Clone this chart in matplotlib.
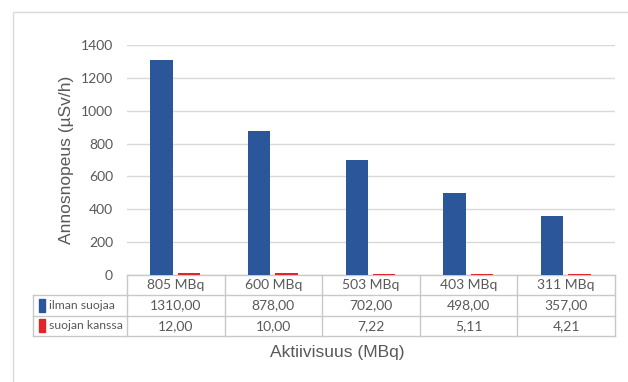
import matplotlib.pyplot as plt
from matplotlib.patches import Rectangle
from matplotlib.transforms import blended_transform_factory
import numpy as np

# dose rate at each activity, without and with shielding
categories = ['805 MBq', '600 MBq', '503 MBq', '403 MBq', '311 MBq']
ilman_suojaa = [1310.00, 878.00, 702.00, 498.00, 357.00]
suojan_kanssa = [12.00, 10.00, 7.22, 5.11, 4.21]
series_names = ['ilman suojaa', 'suojan kanssa']
yticks = [0, 200, 400, 600, 800, 1000, 1200, 1400]

BLUE = '#2B579A'
RED = '#E0262A'
GRID = '#D9D9D9'
TEXT = '#595959'
TICK_FONT = 'Lato'
TITLE_FONT = 'Liberation Sans'
FS = 10

fig = plt.figure(figsize=(6.28, 3.82), dpi=100)
ax = fig.add_axes([0.2022, 0.280, 0.7771, 0.602])

# outer chart frame
fig.patches.append(Rectangle((13 / 628, -0.1), 1.2, 1 - 12 / 382 + 0.1,
                             transform=fig.transFigure, fill=False,
                             edgecolor=GRID, linewidth=1.0))

x = np.arange(len(categories))
w = 0.23
ax.bar(x - 0.145, ilman_suojaa, w, color=BLUE, zorder=3)
ax.bar(x + 0.135, suojan_kanssa, w, color=RED, zorder=3)

ax.set_xlim(-0.5, len(categories) - 0.5)
ax.set_ylim(0, 1400)
ax.set_yticks(yticks)
ax.set_yticklabels([str(v) for v in yticks], fontsize=FS, color=TEXT,
                   family=TICK_FONT)
ax.tick_params(axis='y', length=0, pad=10)
ax.set_xticks([])
ax.yaxis.grid(True, color=GRID, linewidth=1.0, zorder=0)
for s in ['top', 'right', 'left', 'bottom']:
    ax.spines[s].set_visible(False)

# data table under the plot
tr = blended_transform_factory(ax.transData, ax.transAxes)
rh = 0.0883
left = -0.5 - 0.963
line_kw = dict(color='#C8C8C8', linewidth=1.0, transform=tr, clip_on=False)
ax.plot([-0.5, len(categories) - 0.5], [0, 0], **line_kw)
for k in range(1, 4):
    ax.plot([left, len(categories) - 0.5], [-k * rh, -k * rh], **line_kw)
for b in np.arange(len(categories) + 1) - 0.5:
    ax.plot([b, b], [0, -3 * rh], **line_kw)
ax.plot([left, left], [-rh, -3 * rh], **line_kw)

rows = [ilman_suojaa, suojan_kanssa]
for i, cat in enumerate(categories):
    ax.text(i, -0.5 * rh, cat, transform=tr, ha='center', va='center',
            fontsize=FS, color=TEXT, family=TICK_FONT)
    for r, vals in enumerate(rows):
        ax.text(i, -(r + 1.5) * rh, f'{vals[i]:.2f}'.replace('.', ','),
                transform=tr, ha='center', va='center', fontsize=FS,
                color=TEXT, family=TICK_FONT)

for r, (name, col) in enumerate(zip(series_names, [BLUE, RED])):
    yc = -(r + 1.5) * rh
    ax.add_patch(Rectangle((left + 0.062, yc - 0.028), 0.066, 0.056,
                           transform=tr, color=col, clip_on=False))
    ax.text(left + 0.16, yc, name, transform=tr, ha='left', va='center',
            fontsize=8.8, color=TEXT, family=TICK_FONT)

ax.set_ylabel('Annosnopeus (µSv/h)', fontsize=12.5, color=TEXT,
              family=TITLE_FONT, labelpad=5)
fig.text(337 / 628, 1 - 353 / 382, 'Aktiivisuus (MBq)', ha='center',
         va='center', fontsize=12.5, color=TEXT, family=TITLE_FONT)

fig.savefig('out.png', dpi=100)
